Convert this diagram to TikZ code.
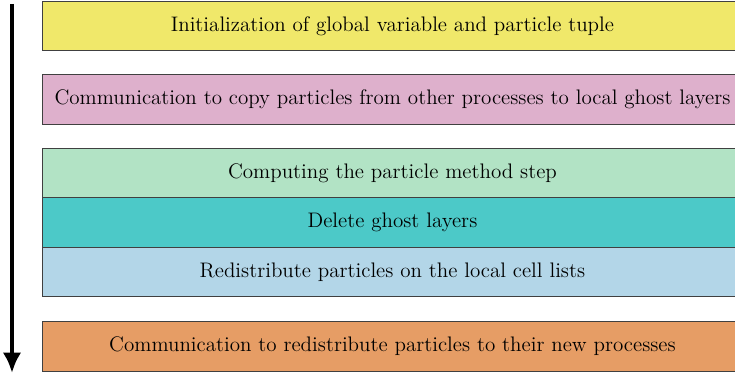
\documentclass[tikz,border=0pt]{standalone}
\usetikzlibrary{arrows.meta}
\definecolor{initcol}{HTML}{F0E86A}
\definecolor{copycol}{HTML}{DEB0CC}
\definecolor{compcol}{HTML}{B2E3C5}
\definecolor{delcol}{HTML}{4CC9C8}
\definecolor{redistcol}{HTML}{B3D6E8}
\definecolor{commcol}{HTML}{E69D65}
\tikzset{stage/.style={draw=black!75, line width=0.5pt, minimum width=378pt, minimum height=26.5pt, inner sep=0pt, anchor=west, font=\fontsize{11.35}{13.5}\selectfont}}
\begin{document}
\begin{tikzpicture}[x=0.54pt, y=0.54pt]
\useasboundingbox (0,0) rectangle (735,-378);
\node[stage, fill=initcol] (init) at (42,-26) {Initialization of global variable and particle tuple};
\node[stage, fill=copycol] (ghost) at (42,-99.5) {Communication to copy particles from other processes to local ghost layers};
\node[stage, fill=compcol] (compute) at (42,-173.5) {Computing the particle method step};
\node[stage, fill=delcol] (delete) at (42,-222.5) {Delete ghost layers};
\node[stage, fill=redistcol] (cells) at (42,-272) {Redistribute particles on the local cell lists};
\node[stage, fill=commcol] (comm) at (42,-346.5) {Communication to redistribute particles to their new processes};
% time axis
\coordinate (tstart) at (12,-4);
\coordinate (tend) at (12,-373);
\draw[line width=2.6pt, -{Latex[length=11pt, width=10pt]}] (tstart) -- (tend);
\end{tikzpicture}
\end{document}
